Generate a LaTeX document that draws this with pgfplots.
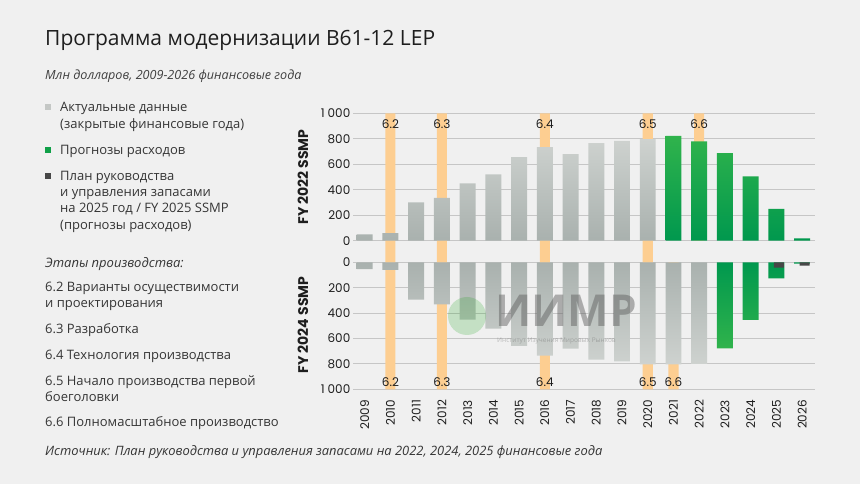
\documentclass[border=0pt]{standalone}
\usepackage{fontspec}
\setmainfont{Open Sans}
\newfontfamily\pop{Poppins}
\usepackage{pgfplots}
\pgfplotsset{compat=1.18}
\definecolor{bg}{HTML}{F0F0F0}
\definecolor{gridc}{HTML}{C6C6C6}
\definecolor{greyL}{HTML}{CED2CF}
\definecolor{greyD}{HTML}{A9B1AE}
\definecolor{greenL}{HTML}{30B34C}
\definecolor{greenD}{HTML}{00984E}
\definecolor{darkb}{HTML}{474747}
\definecolor{orng}{HTML}{FDCE91}
\definecolor{txt}{HTML}{1E1E1E}
\definecolor{sqgrey}{HTML}{C4C7C5}
\definecolor{sqgreen}{HTML}{10A048}

\tikzset{lab/.style={font=\pop\fontsize{12}{12}\selectfont, text=txt}}
\pgfplotsset{
  common/.style={
    scale only axis, width=462pt,
    xmin=-0.455, xmax=17.5,
    axis line style={draw=none}, major tick length=0pt,
    ymajorgrids, grid style={gridc, line width=0.8pt},
    clip=false,
    yticklabel style={font=\pop\fontsize{12}{12}\selectfont, text=txt, inner sep=0pt, xshift=-2.5pt},
  },
  band/.style={ybar, bar width=0.39, bar shift=0pt, fill=orng, draw=none, forget plot},
  bargrey/.style={ybar, bar width=0.62, bar shift=0pt, draw=none},
}

\begin{document}
\begin{tikzpicture}[x=1pt,y=1pt]
\fill[bg] (0,0) rectangle (860,484);

% Title and subtitle
\node[anchor=base west, inner sep=0, text=txt, font=\fontsize{21}{24}\selectfont] at (45,438.5) {Программа модернизации B61-12 LEP};
\node[anchor=base west, inner sep=0, text=txt!85, font=\itshape\fontsize{12.6}{14}\selectfont] at (45,404) {Млн долларов, 2009-2026 финансовые года};

% Legend squares
\fill[sqgrey] (45,373.7) rectangle (51,379.7);
\fill[sqgreen] (45,331) rectangle (51,337);
\fill[darkb] (45,305) rectangle (51,311);

\begin{scope}[every node/.style={anchor=base west, inner sep=0, text=txt!90, font=\fontsize{13}{15}\selectfont}]
\node at (60,372.2) {Актуальные данные};
\node at (60,355.2) {(закрытые финансовые года)};
\node at (60,329.5) {Прогнозы расходов};
\node at (60,303.5) {План руководства};
\node at (60,287.2) {и управления запасами};
\node at (60,271.2) {на 2025 год / FY 2025 SSMP};
\node at (60,254.5) {(прогнозы расходов)};
\node[font=\itshape\fontsize{13}{15}\selectfont] at (45,216.2) {Этапы производства:};
\node at (45,192.2) {6.2 Варианты осуществимости};
\node at (45,176.8) {и проектирования};
\node at (45,150.2) {6.3 Разработка};
\node at (45,124.5) {6.4 Технология производства};
\node at (45,98.8) {6.5 Начало производства первой};
\node at (45,82.8) {боеголовки};
\node at (45,57.2) {6.6 Полномасштабное производство};
\node[font=\itshape\fontsize{12.9}{14}\selectfont] at (45,28) {Источник: План руководства и управления запасами на 2022, 2024, 2025 финансовые года};
\end{scope}

% Top panel: FY 2022 SSMP
\begin{axis}[common,
  at={(353pt,370.7pt)}, anchor=north west, height=149pt,
  ymin=-170, ymax=1000,
  ytick={0,200,400,600,800,1000}, yticklabels={0,200,400,600,800,1\hspace{3pt}000},
  xtick=\empty,
]
\addplot[band] coordinates {(1,1000) (3,1000) (7,1000) (11,1000) (13,1000)};
\addplot[band] coordinates {(1,-170) (3,-170) (7,-170) (11,-170)};
% actual data
\addplot[bargrey, top color=greyL, bottom color=greyD] coordinates {
 (0,50) (1,60) (2,300) (3,335) (4,450) (5,520) (6,655) (7,735) (8,680) (9,765) (10,783) (11,798)};
% forecasts
\addplot[bargrey, top color=greenL, bottom color=greenD] coordinates {
 (12,823) (13,780) (14,688) (15,504) (16,250) (17,18)};
\node[lab] at (axis cs:1,919) {6.2};
\node[lab] at (axis cs:3,919) {6.3};
\node[lab] at (axis cs:7,919) {6.4};
\node[lab] at (axis cs:11,919) {6.5};
\node[lab] at (axis cs:13,919) {6.6};
\end{axis}

% Bottom panel: FY 2024 SSMP
\begin{axis}[common,
  at={(353pt,221.7pt)}, anchor=north west, height=127pt,
  ymin=-1000, ymax=0,
  ytick={-1000,-800,-600,-400,-200,0}, yticklabels={1\hspace{3pt}000,800,600,400,200,0},
  xtick={0,...,17},
  xticklabels={2009,2010,2011,2012,2013,2014,2015,2016,2017,2018,2019,2020,2021,2022,2023,2024,2025,2026},
  xticklabel style={rotate=90, anchor=east, inner sep=0pt, font=\pop\fontsize{12}{12}\selectfont, text=txt},
  xticklabel shift=10.5pt,
]
\addplot[band] coordinates {(1,-1000) (3,-1000) (7,-1000) (11,-1000) (12,-1000)};
\addplot[bargrey, top color=greyD, bottom color=greyL] coordinates {
 (0,-53) (1,-60) (2,-294) (3,-331) (4,-452) (5,-523) (6,-659) (7,-735) (8,-680) (9,-767) (10,-780) (11,-803) (12,-803) (13,-800)};
\addplot[bargrey, top color=greenD, bottom color=greenL] coordinates {
 (14,-677) (15,-454) (16,-127) (17,-11)};
% FY 2025 SSMP forecasts
\addplot[ybar, bar width=0.39, bar shift=0.1, draw=none, fill=darkb] coordinates {(16,-42) (17,-27)};
\node[lab] at (axis cs:1,-942) {6.2};
\node[lab] at (axis cs:3,-942) {6.3};
\node[lab] at (axis cs:7,-942) {6.4};
\node[lab] at (axis cs:11,-942) {6.5};
\node[lab] at (axis cs:12,-942) {6.6};
\end{axis}

% Axis titles
\node[rotate=90, text=txt, font=\pop\bfseries\fontsize{14}{14}\selectfont] at (303,307) {FY 2022 SSMP};
\node[rotate=90, text=txt, font=\pop\bfseries\fontsize{14}{14}\selectfont] at (303,159) {FY 2024 SSMP};

% Watermark
\fill[green!60!black, opacity=0.18] (467,168) circle (19);
\node[anchor=base west, inner sep=0, text depth=0pt, text=gray!70!black, opacity=0.45, font=\bfseries\fontsize{44}{44}\selectfont] at (495,157) {ИИМР};
\node[anchor=base west, inner sep=0, text height=4.5pt, text=gray!70!black, opacity=0.35, font=\fontsize{6.5}{7}\selectfont] at (497,141.5) {Институт Изучения Мировых Рынков};
\end{tikzpicture}
\end{document}
